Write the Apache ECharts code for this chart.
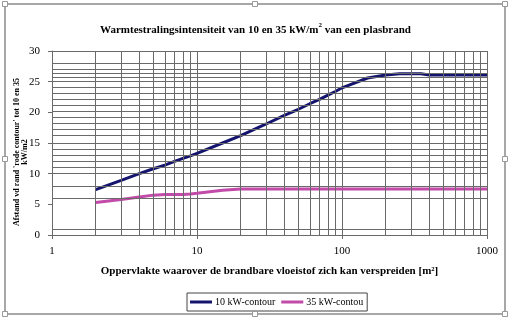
<!DOCTYPE html>
<html>
<head>
<meta charset="utf-8">
<script src="https://cdn.jsdelivr.net/npm/echarts@6/dist/echarts.min.js"></script>
<style>html,body{margin:0;padding:0;background:#fff}#c{width:511px;height:323px}</style>
</head>
<body>
<div id="c"></div>
<script>
// ---- data ----
var xValues = [2, 3, 4, 5, 6, 7, 8, 9, 10, 15, 20, 30, 40, 50, 60, 70, 80, 90, 100, 150, 200, 250, 300, 350, 400, 500, 700, 1000];
var tenKw   = [7.4, 8.9, 10.0, 10.8, 11.4, 12.0, 12.5, 12.9, 13.3, 15.0, 16.2, 18.1, 19.5, 20.5, 21.4, 22.1, 22.8, 23.4, 24.0, 25.6, 26.1, 26.3, 26.3, 26.3, 26.1, 26.1, 26.1, 26.1];
var thirtyFiveKw = [5.3, 5.8, 6.2, 6.5, 6.6, 6.6, 6.6, 6.7, 6.8, 7.3, 7.5, 7.5, 7.5, 7.5, 7.5, 7.5, 7.5, 7.5, 7.5, 7.5, 7.5, 7.5, 7.5, 7.5, 7.5, 7.5, 7.5, 7.5];
var seriesNames = ['10 kW-contour', '35 kW-contou'];
var xMinorGrid = [2, 3, 4, 5, 6, 7, 8, 9, 20, 30, 40, 50, 60, 70, 80, 90, 200, 300, 400, 500, 600, 700, 800, 900];
var yGrid = [1, 6, 8, 10, 11, 12, 13, 14, 15, 16.3, 17.2, 18.2, 19.2, 20.2, 21.2, 22.1, 23.1, 24.1, 25, 25.7, 26.3, 27.1, 28, 30];
var titleText = 'Warmtestralingsintensiteit van 10 en 35 kW/m{sup|2} van een plasbrand';
var xTitle = 'Oppervlakte waarover de brandbare vloeistof zich kan verspreiden [m²]';
var yTitle = "Afstand vd rand 'rode contour' tot 10 en 35\nkW/m2";

var FONT = "'Liberation Serif', 'Times New Roman', serif";
var GRIDC = '#6a6a6a';

function pairs(xs, ys) { return xs.map(function (x, i) { return [x, ys[i]]; }); }

var chart = echarts.init(document.getElementById('c'), null, { renderer: 'canvas' });

var handles = [[5,4],[255,4],[505,4],[5,159],[505,159],[5,314],[255,314],[505,314]].map(function (p) {
  return { type: 'rect', shape: { x: p[0] - 2.5, y: p[1] - 2.5, width: 5, height: 5 },
           style: { fill: '#fff', stroke: '#999', lineWidth: 1 }, z: 10 };
});

chart.setOption({
  animation: false,
  backgroundColor: '#fff',
  title: {
    text: titleText,
    left: 'center',
    top: 17,
    textStyle: {
      fontFamily: FONT, fontSize: 11, fontWeight: 'bold', color: '#000',
      rich: { sup: { fontFamily: FONT, fontSize: 7, fontWeight: 'bold', color: '#000', verticalAlign: 'bottom', padding: [0, 0, 10, 0] } }
    }
  },
  grid: { left: 52, right: 24, top: 51, bottom: 88, containLabel: false },
  legend: {
    data: seriesNames,
    left: 187, top: 293,
    padding: [4, 4, 4, 3],
    itemGap: 6,
    itemWidth: 22, itemHeight: 3,
    icon: 'rect',
    borderColor: '#444', borderWidth: 1,
    textStyle: { fontFamily: FONT, fontSize: 10, color: '#000', padding: [0, 0, 0, -2] }
  },
  xAxis: {
    type: 'log', logBase: 10, min: 1, max: 1000,
    axisLine: { show: true, lineStyle: { color: GRIDC, width: 1 } },
    axisTick: { show: true, length: 4, lineStyle: { color: GRIDC } },
    axisLabel: { fontFamily: FONT, fontSize: 11, color: '#000', margin: 11,
                 formatter: function (v) { return String(Math.round(v)); } },
    splitLine: { show: true, lineStyle: { color: GRIDC, width: 1 } },
    minorTick: { show: false }, minorSplitLine: { show: false },
    name: xTitle, nameLocation: 'middle', nameGap: 31,
    nameTextStyle: { fontFamily: FONT, fontSize: 11, fontWeight: 'bold', color: '#000' }
  },
  yAxis: {
    type: 'value', min: 0, max: 30, interval: 5,
    axisLine: { show: true, lineStyle: { color: GRIDC, width: 1 } },
    axisTick: { show: true, length: 4, lineStyle: { color: GRIDC } },
    axisLabel: { fontFamily: FONT, fontSize: 11, color: '#000', margin: 12 },
    splitLine: { show: false }
  },
  graphic: [
    { type: 'rect', shape: { x: 5, y: 4, width: 500, height: 310 },
      style: { fill: 'none', stroke: '#8a8a8a', lineWidth: 1.5 }, z: 9 },
    { type: 'text', x: 21, y: 152, rotation: Math.PI / 2,
      style: { text: yTitle, fontFamily: FONT, fontSize: 8, fontWeight: 'bold', fill: '#000',
               align: 'center', verticalAlign: 'middle', lineHeight: 8 }, z: 10 }
  ].concat(handles),
  series: [
    {
      name: 'grid', type: 'line', data: [], silent: true, z: 1,
      markLine: {
        silent: true, symbol: ['none', 'none'], animation: false,
        label: { show: false },
        lineStyle: { color: GRIDC, width: 1, type: 'solid' },
        emphasis: { disabled: true },
        data: xMinorGrid.map(function (v) { return { xAxis: v }; })
          .concat(yGrid.map(function (v) { return { yAxis: v }; }))
      }
    },
    {
      name: seriesNames[0], type: 'line', data: pairs(xValues, tenKw),
      showSymbol: false, symbol: 'none', z: 4,
      itemStyle: { color: '#14146e' },
      lineStyle: { color: '#14146e', width: 3 }
    },
    {
      name: seriesNames[1], type: 'line', data: pairs(xValues, thirtyFiveKw),
      showSymbol: false, symbol: 'none', z: 3,
      itemStyle: { color: '#c24aa8' },
      lineStyle: { color: '#c24aa8', width: 3 }
    }
  ]
});
</script>
</body>
</html>
